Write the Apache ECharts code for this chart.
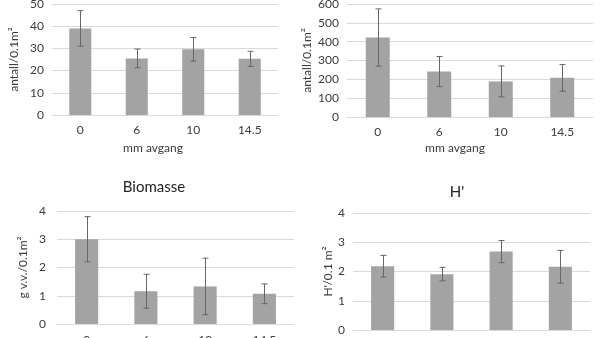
<!DOCTYPE html>
<html><head><meta charset="utf-8">
<script src="https://cdn.jsdelivr.net/npm/echarts@6/dist/echarts.min.js"></script>
<style>html,body{margin:0;padding:0;background:#fff}#c{width:602px;height:338px}</style>
</head><body><div id="c"></div>
<script>
const categories = ['0', '6', '10', '14.5'];
// Panel 1: antall/0.1m2 (left top)
const abundA = [39, 25.5, 29.6, 25.3];
const abundAErr = [8, 4.2, 5.3, 3.4];
// Panel 2: antall/0.1m2 (right top)
const abundB = [422, 241, 189, 208];
const abundBErr = [152, 80, 82, 71];
// Panel 3: Biomasse
const biomass = [3.0, 1.16, 1.33, 1.07];
const biomassErr = [0.8, 0.6, 1.0, 0.35];
// Panel 4: H'
const shannon = [2.18, 1.91, 2.68, 2.16];
const shannonErr = [0.37, 0.23, 0.38, 0.56];

const FONT = 'Lato, "Open Sans", sans-serif';
const TXT = '#3a3a3a';
const GRID = '#d9d9d9';

const grids = [
  {left: 52, top: 4, width: 226, height: 111, outerBoundsMode: 'none', containLabel: false},
  {left: 347, top: 4, width: 246, height: 113, outerBoundsMode: 'none', containLabel: false},
  {left: 57, top: 211, width: 237, height: 113, outerBoundsMode: 'none', containLabel: false},
  {left: 353, top: 213, width: 237, height: 117, outerBoundsMode: 'none', containLabel: false}
];
const yMax = [50, 600, 4, 4];
const yInt = [10, 100, 1, 1];
const yNames = ['antall/0.1m²', 'antall/0.1m²', 'g v.v./0.1m²', 'H\'/0.1 m²'];
const yGaps = [32, 34, 28, 18];
const xMargins = [9, 9, 10, 10];
const vals = [abundA, abundB, biomass, shannon];
const errs = [abundAErr, abundBErr, biomassErr, shannonErr];

const xAxis = grids.map((g, i) => ({
  type: 'category', gridIndex: i, data: categories,
  axisLine: {lineStyle: {color: GRID}}, axisTick: {show: false},
  axisLabel: {color: TXT, fontFamily: FONT, fontSize: 12, margin: xMargins[i]}
}));
const yAxis = grids.map((g, i) => ({
  type: 'value', gridIndex: i, min: 0, max: yMax[i], interval: yInt[i],
  name: yNames[i], nameLocation: 'middle', nameGap: yGaps[i],
  nameTextStyle: {color: TXT, fontFamily: FONT, fontSize: 12},
  axisLine: {show: false}, axisTick: {show: false},
  splitLine: {lineStyle: {color: GRID, width: 1}},
  axisLabel: {color: TXT, fontFamily: FONT, fontSize: 12, margin: i === 2 ? 11 : 8}
}));

const series = [];
vals.forEach((v, i) => {
  series.push({
    type: 'bar', xAxisIndex: i, yAxisIndex: i, data: v, barWidth: '39%',
    itemStyle: {color: '#a3a3a3'}, silent: true
  });
  series.push({
    type: 'custom', xAxisIndex: i, yAxisIndex: i,
    data: v.map((m, j) => [j, m - errs[i][j], m + errs[i][j]]),
    renderItem: function (params, api) {
      const lo = api.coord([api.value(0), api.value(1)]);
      const hi = api.coord([api.value(0), api.value(2)]);
      const x = Math.round(lo[0]) + 0.5, c = 3;
      const st = {stroke: '#666666', lineWidth: 1};
      return {type: 'group', children: [
        {type: 'line', shape: {x1: x, y1: hi[1], x2: x, y2: lo[1]}, style: st},
        {type: 'line', shape: {x1: x - c, y1: hi[1], x2: x + c, y2: hi[1]}, style: st},
        {type: 'line', shape: {x1: x - c, y1: lo[1], x2: x + c, y2: lo[1]}, style: st}
      ]};
    },
    z: 10, silent: true
  });
});

const txt = (t, x, y, size, color) => ({
  type: 'text', x: x, y: y,
  style: {text: t, fill: color, font: size + 'px ' + FONT, textAlign: 'center', textVerticalAlign: 'middle'}
});

const option = {
  animation: false,
  grid: grids,
  xAxis: xAxis,
  yAxis: yAxis,
  series: series,
  graphic: [
    txt('mm avgang', 153, 148, 12, TXT),
    txt('mm avgang', 455, 148, 12, TXT),
    txt('Biomasse', 154, 187, 15, '#222'),
    txt('H\'', 457, 192, 15, '#222')
  ]
};
echarts.init(document.getElementById('c')).setOption(option);
</script></body></html>
